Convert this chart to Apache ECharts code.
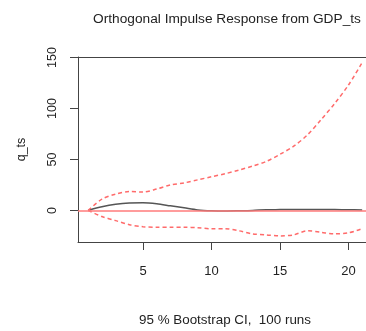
<!DOCTYPE html>
<html>
<head>
<meta charset="utf-8">
<script src="https://cdn.jsdelivr.net/npm/echarts@6/dist/echarts.min.js"></script>
<style>
  html, body { margin: 0; padding: 0; background: #fff; }
  #chart { width: 366px; height: 331px; }
</style>
</head>
<body>
<div id="chart"></div>
<script>
// Horizon steps and the three traces
const steps = [1, 2, 3, 4, 5, 6, 7, 8, 9, 10, 11, 12, 13, 14, 15, 16, 17, 18, 19, 20, 21];
const irf = [0, 3.5, 6, 7.3, 7.5, 6.5, 4.5, 2.5, 0.5, -0.3, -0.5, -0.3, 0, 0.6, 0.8, 1, 1, 1, 0.8, 0.6, 0.5];
const upper = [0, 11, 16, 18.5, 18, 21, 25, 27, 30, 33, 36, 39.5, 43.5, 48, 55, 63, 74, 89, 105, 123, 145];
const lower = [0, -6, -10, -14, -16, -16.5, -16.5, -16.5, -17, -18, -18, -20, -23, -24, -25, -24, -20, -21.5, -23, -22, -18];
const xTicks = [5, 10, 15, 20];
const yTicks = [0, 50, 100, 150];

const pairs = arr => steps.map((s, i) => [s, arr[i]]);

const chart = echarts.init(document.getElementById('chart'));
const font = 'Liberation Sans, Arial, sans-serif';
const boxColor = '#444';
const dashed = {
  type: 'line',
  symbol: 'none',
  smooth: 0.3,
  lineStyle: { color: '#ff6b6b', width: 1.5, type: [4, 3] },
  silent: true,
  z: 3
};

// plot region runs past the right edge of the picture, as in the reference
const xMin = 0.255, xMax = 21.28;

chart.setOption({
  animation: false,
  title: [
    {
      text: 'Orthogonal Impulse Response from GDP_ts',
      left: 222, top: 7, textAlign: 'center',
      textStyle: { fontFamily: font, fontSize: 13.7, fontWeight: 'normal', color: '#222' }
    },
    {
      text: '95 % Bootstrap CI,  100 runs',
      left: 220, top: 309, textAlign: 'center',
      textStyle: { fontFamily: font, fontSize: 13.4, fontWeight: 'normal', color: '#222' }
    }
  ],
  grid: { left: 78, top: 57, right: 0, height: 185 },
  xAxis: [
    {
      type: 'value', min: xMin, max: xMax, position: 'bottom',
      axisLine: { show: true, onZero: false, lineStyle: { color: boxColor } },
      splitLine: { show: false },
      axisTick: { show: true, inside: false, length: 8, customValues: xTicks, lineStyle: { color: boxColor } },
      axisLabel: { customValues: xTicks, margin: 23, fontFamily: font, fontSize: 13, color: '#222' }
    },
    {
      type: 'value', min: xMin, max: xMax, position: 'top',
      axisLine: { show: true, onZero: false, lineStyle: { color: boxColor } },
      splitLine: { show: false },
      axisTick: { show: false },
      axisLabel: { show: false }
    }
  ],
  yAxis: {
    type: 'value', min: -31, max: 150.5,
    name: 'q_ts', nameLocation: 'middle', nameGap: 50, nameRotate: 90,
    nameTextStyle: { fontFamily: font, fontSize: 12.5, color: '#222' },
    axisLine: { show: true, onZero: false, lineStyle: { color: boxColor } },
    splitLine: { show: false },
    axisTick: { show: true, inside: false, length: 8, customValues: yTicks, lineStyle: { color: boxColor } },
    axisLabel: { customValues: yTicks, rotate: 90, margin: 19, fontFamily: font, fontSize: 12.5, color: '#222' }
  },
  series: [
    {
      name: 'q_ts',
      type: 'line',
      symbol: 'none',
      smooth: 0.3,
      data: pairs(irf),
      lineStyle: { color: '#555', width: 1.5 },
      z: 2,
      markLine: {
        silent: true, symbol: 'none', label: { show: false },
        lineStyle: { color: '#ff7b7b', width: 1.5, type: 'solid' },
        data: [{ yAxis: 0 }]
      }
    },
    Object.assign({ name: 'Upper', data: pairs(upper) }, dashed),
    Object.assign({ name: 'Lower', data: pairs(lower) }, dashed)
  ]
});
</script>
</body>
</html>
